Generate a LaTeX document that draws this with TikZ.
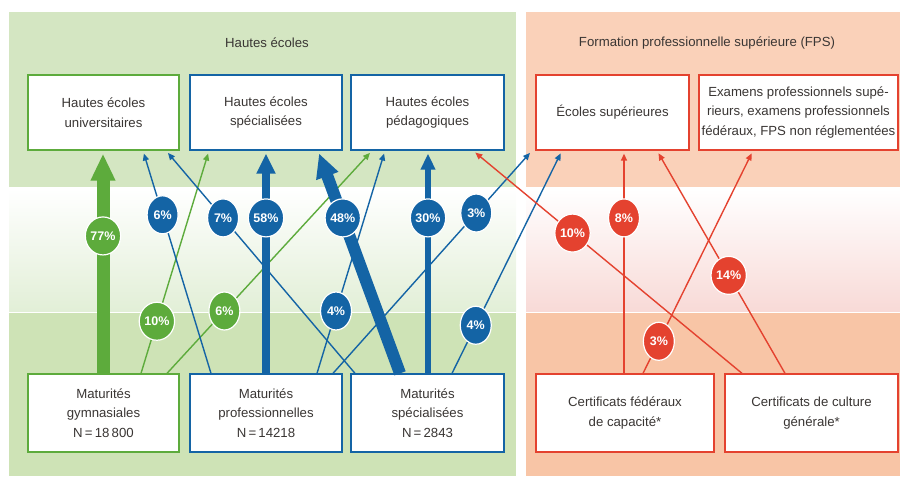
\documentclass[tikz,border=0pt]{standalone}
\usepackage{fontspec}
\setmainfont{Liberation Sans}
\usetikzlibrary{arrows.meta,shapes.geometric}
\definecolor{hgreen}{HTML}{5DAB3C}
\definecolor{hblue}{HTML}{1464A5}
\definecolor{hred}{HTML}{E4422F}
\definecolor{txt}{HTML}{3A3634}
\definecolor{bandgreen}{HTML}{D4E6C2}
\definecolor{bandgreenlow}{HTML}{CEE3B6}
\definecolor{midgreen}{HTML}{E2EFD7}
\definecolor{bandsalmon}{HTML}{FAD1B9}
\definecolor{bandsalmonlow}{HTML}{F8C5A6}
\definecolor{midpink}{HTML}{F8DAD7}
\begin{document}
\begin{tikzpicture}[x=1pt,y=-1pt,
		schoolbox/.style={draw=#1,fill=white,line width=1.3pt,minimum height=75pt,align=center,inner sep=0pt,text=txt,font=\fontsize{13.2}{19.5}\selectfont},
		pct/.style={ellipse,fill=#1,draw=white,line width=1.2pt,minimum width=31pt,minimum height=38pt,inner sep=0pt,text=white,font=\fontsize{12.5}{12.5}\selectfont\bfseries},
		link/.style={draw=#1,line width=1.4pt,shorten >=3pt,-{Triangle[length=7pt,width=6pt]}},
		flow/.style n args={4}{draw=#1,line width=#2,shorten >=3pt,-{Triangle[length=#3,width=#4]}},
		head/.style={text=txt,font=\fontsize{13.2}{15}\selectfont}]
			\useasboundingbox (0,0) rectangle (900,477);
			\fill[bandgreen] (9,12) rectangle (516,187);
			\shade[top color=white,bottom color=midgreen] (9,188.5) rectangle (516,311);
			\fill[bandgreenlow] (9,312.5) rectangle (516,476);
			\fill[bandsalmon] (526,12) rectangle (900,187);
			\shade[top color=white,bottom color=midpink] (526,188.5) rectangle (900,311);
			\fill[bandsalmonlow] (526,312.5) rectangle (900,476);
			\node[head] (hautes) at (267,43) {Hautes écoles};
			\node[head] (fps) at (707,43) {Formation professionnelle supérieure (FPS)};
			\node[schoolbox=hgreen,minimum width=151pt] (heu) at (103.5,112.5) {Hautes écoles\\universitaires};
			\node[schoolbox=hblue,minimum width=152pt] (hes) at (266,112.5) {Hautes écoles\\spécialisées};
			\node[schoolbox=hblue,minimum width=153pt] (hep) at (427.5,112.5) {Hautes écoles\\pédagogiques};
			\node[schoolbox=hred,minimum width=153pt] (es) at (612.5,112.5) {Écoles supérieures};
			\node[schoolbox=hred,minimum width=199pt] (ex) at (798.5,112.5) {Examens professionnels supé-\\rieurs, examens professionnels\\fédéraux, FPS non réglementées};
			\node[schoolbox=hgreen,minimum width=151pt,minimum height=78pt] (mg) at (103.5,413) {Maturités\\gymnasiales\\N\,=\,18\,800};
			\node[schoolbox=hblue,minimum width=152pt,minimum height=78pt] (mp) at (266,413) {Maturités\\professionnelles\\N\,=\,14218};
			\node[schoolbox=hblue,minimum width=153pt,minimum height=78pt] (ms) at (427.5,413) {Maturités\\spécialisées\\N\,=\,2843};
			\node[schoolbox=hred,minimum width=178pt,minimum height=78pt] (cfc) at (625,413) {Certificats fédéraux\\de capacité*};
			\node[schoolbox=hred,minimum width=173pt,minimum height=78pt] (ccg) at (811.5,413) {Certificats de culture\\générale*};
			\draw[flow={hgreen}{13pt}{27pt}{23pt}] (mg.north -| 103,0) -- node[pct=hgreen,pos=0.617] (p77) {77\%} (heu.south -| 103,0);
			\draw[link=hgreen] (mg.north -| 141,0) -- node[pct=hgreen,pos=0.234] (p10) {10\%} (hes.south -| 209,0);
			\draw[link=hgreen] (mg.north -| 167,0) -- node[pct=hgreen,pos=0.28] (p6g) {6\%} (hep.south -| 372,0);
			\draw[link=hblue] (mp.north -| 211,0) -- node[pct=hblue,pos=0.712] (p6b) {6\%} (heu.south -| 143,0);
			\draw[link=hblue] (ms.north -| 355,0) -- node[pct=hblue,pos=0.698] (p7) {7\%} (heu.south -| 166,0);
			\draw[flow={hblue}{8pt}{20pt}{18pt}] (mp.north -| 266,0) -- node[pct=hblue,pos=0.698] (p58) {58\%} (hes.south -| 266,0);
			\draw[flow={hblue}{12pt}{24pt}{22pt}] (ms.north -| 400,0) -- node[pct=hblue,pos=0.698] (p48) {48\%} (hes.south -| 318,0);
			\draw[flow={hblue}{6pt}{16pt}{14pt}] (ms.north -| 428,0) -- node[pct=hblue,pos=0.698] (p30) {30\%} (hep.south -| 428,0);
			\draw[link=hblue] (mp.north -| 317,0) -- node[pct=hblue,pos=0.28] (p4a) {4\%} (hep.south -| 385,0);
			\draw[link=hblue] (mp.north -| 333,0) -- node[pct=hblue,pos=0.72] (p3b) {3\%} (es.south -| 532,0);
			\draw[link=hblue] (ms.north -| 452,0) -- node[pct=hblue,pos=0.216] (p4b) {4\%} (es.south -| 562,0);
			\draw[link=hred] (ccg.north -| 742,0) -- node[pct=hred,pos=0.63] (p10r) {10\%} (hep.south -| 473,0);
			\draw[link=hred] (cfc.north -| 624,0) -- node[pct=hred,pos=0.698] (p8) {8\%} (es.south -| 624,0);
			\draw[link=hred] (ccg.north -| 785,0) -- node[pct=hred,pos=0.44] (p14) {14\%} (es.south -| 657,0);
			\draw[link=hred] (cfc.north -| 643,0) -- node[pct=hred,pos=0.144] (p3r) {3\%} (ex.south -| 753,0);
		\end{tikzpicture}
\end{document}
